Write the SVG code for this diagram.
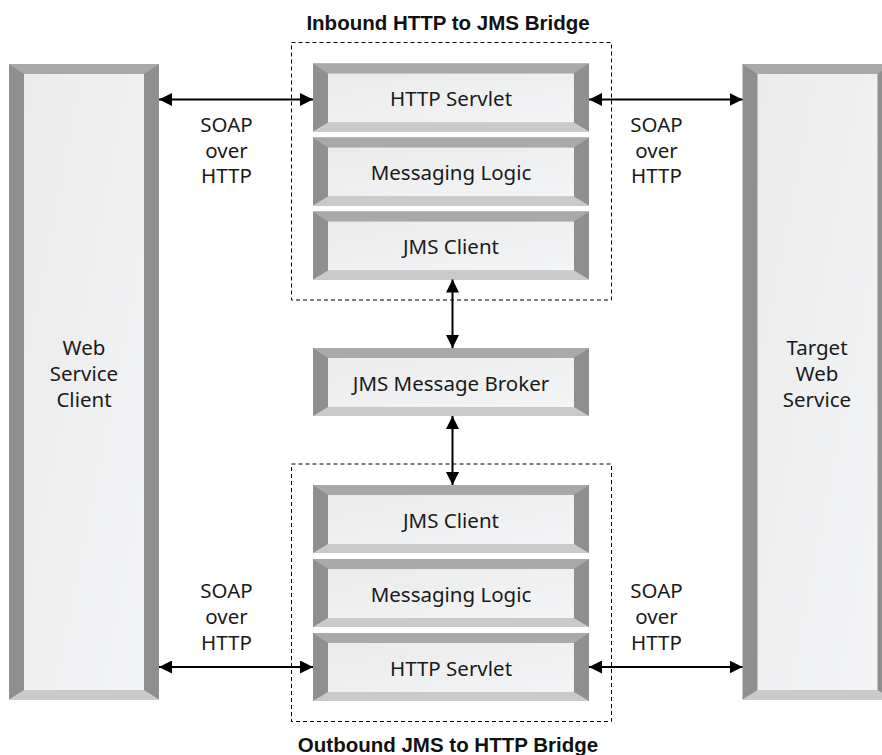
<svg xmlns="http://www.w3.org/2000/svg" width="882" height="755" viewBox="0 0 882 755">
<style>
.side{fill:#8f8f8f}
.top{fill:#a9a9a9}
.bot{fill:#cacaca}
.face{fill:url(#faceGrad)}
.lbl{font-family:"Noto Sans","Liberation Sans",Arial,sans-serif;font-size:20.5px;fill:#1a1a1a;text-anchor:middle}
.ttl{font-family:"Liberation Sans",Arial,sans-serif;font-size:20.5px;font-weight:bold;fill:#111;text-anchor:middle}
.dash{fill:none;stroke:#000;stroke-width:1;stroke-dasharray:4 3}
.conn{stroke:#000;stroke-width:2;fill:none;marker-start:url(#ah);marker-end:url(#ah)}
</style>
<defs>
<linearGradient id="faceGrad" x1="0" y1="0" x2="1" y2="1">
<stop offset="0" stop-color="#ebebeb"/>
<stop offset="1" stop-color="#f3f4f6"/>
</linearGradient>
<marker id="ah" markerUnits="userSpaceOnUse" markerWidth="13" markerHeight="13" refX="12" refY="6" orient="auto-start-reverse" viewBox="0 0 12 12">
<path d="M0,0 L12,6 L0,12 z" fill="#000"/>
</marker>
</defs>
<rect width="882" height="755" fill="#fff"/>

<g id="inbound-bridge">
<rect class="dash" x="291.5" y="42.5" width="320" height="257.5"/>
<text class="ttl" x="448" y="30">Inbound HTTP to JMS Bridge</text>
</g>
<g id="outbound-bridge">
<rect class="dash" x="291.5" y="464" width="320" height="257.5"/>
<text class="ttl" x="448" y="751.5">Outbound JMS to HTTP Bridge</text>
</g>

<g id="web-service-client">
<rect class="side" x="9" y="64" width="150" height="635.5"/>
<polygon class="top" points="9,64 159,64 144,74 24,74"/>
<polygon class="bot" points="9,699.5 159,699.5 144,690 24,690"/>
<rect class="face" x="24" y="74" width="120" height="616"/>
<text class="lbl" x="84" y="354.5">Web</text>
<text class="lbl" x="84" y="380.5">Service</text>
<text class="lbl" x="84" y="406.5">Client</text>
</g>

<g id="target-web-service">
<rect class="side" x="742.5" y="64" width="150" height="635.5"/>
<polygon class="top" points="742.5,64 892.5,64 877.5,74 757.5,74"/>
<polygon class="bot" points="742.5,699.5 892.5,699.5 877.5,690 757.5,690"/>
<rect class="face" x="757.5" y="74" width="120" height="616"/>
<text class="lbl" x="817" y="354.5">Target</text>
<text class="lbl" x="817" y="380.5">Web</text>
<text class="lbl" x="817" y="406.5">Service</text>
</g>

<g id="in-http-servlet">
<rect class="side" x="313" y="63.5" width="276" height="68"/>
<polygon class="top" points="313,63.5 589,63.5 574,73.5 328,73.5"/>
<polygon class="bot" points="313,131.5 589,131.5 574,122.5 328,122.5"/>
<rect class="face" x="328" y="73.5" width="246" height="49"/>
<text class="lbl" x="451" y="106">HTTP Servlet</text>
</g>
<g id="in-messaging-logic">
<rect class="side" x="313" y="137.5" width="276" height="68"/>
<polygon class="top" points="313,137.5 589,137.5 574,147.5 328,147.5"/>
<polygon class="bot" points="313,205.5 589,205.5 574,196.5 328,196.5"/>
<rect class="face" x="328" y="147.5" width="246" height="49"/>
<text class="lbl" x="451" y="180">Messaging Logic</text>
</g>
<g id="in-jms-client">
<rect class="side" x="313" y="211.5" width="276" height="68"/>
<polygon class="top" points="313,211.5 589,211.5 574,221.5 328,221.5"/>
<polygon class="bot" points="313,279.5 589,279.5 574,270.5 328,270.5"/>
<rect class="face" x="328" y="221.5" width="246" height="49"/>
<text class="lbl" x="451" y="254">JMS Client</text>
</g>
<g id="jms-message-broker">
<rect class="side" x="313" y="348" width="276" height="68"/>
<polygon class="top" points="313,348 589,348 574,358 328,358"/>
<polygon class="bot" points="313,416 589,416 574,407 328,407"/>
<rect class="face" x="328" y="358" width="246" height="49"/>
<text class="lbl" x="451" y="390.5">JMS Message Broker</text>
</g>
<g id="out-jms-client">
<rect class="side" x="313" y="485" width="276" height="68"/>
<polygon class="top" points="313,485 589,485 574,495 328,495"/>
<polygon class="bot" points="313,553 589,553 574,544 328,544"/>
<rect class="face" x="328" y="495" width="246" height="49"/>
<text class="lbl" x="451" y="527.5">JMS Client</text>
</g>
<g id="out-messaging-logic">
<rect class="side" x="313" y="559" width="276" height="68"/>
<polygon class="top" points="313,559 589,559 574,569 328,569"/>
<polygon class="bot" points="313,627 589,627 574,618 328,618"/>
<rect class="face" x="328" y="569" width="246" height="49"/>
<text class="lbl" x="451" y="601.5">Messaging Logic</text>
</g>
<g id="out-http-servlet">
<rect class="side" x="313" y="633" width="276" height="68"/>
<polygon class="top" points="313,633 589,633 574,643 328,643"/>
<polygon class="bot" points="313,701 589,701 574,692 328,692"/>
<rect class="face" x="328" y="643" width="246" height="49"/>
<text class="lbl" x="451" y="675.5">HTTP Servlet</text>
</g>

<g id="connectors">
<line class="conn" x1="159" y1="99.5" x2="313" y2="99.5"/>
<line class="conn" x1="589" y1="99.5" x2="742.5" y2="99.5"/>
<line class="conn" x1="452.5" y1="279.5" x2="452.5" y2="348"/>
<line class="conn" x1="452.5" y1="416" x2="452.5" y2="485"/>
<line class="conn" x1="159" y1="667" x2="313" y2="667"/>
<line class="conn" x1="589" y1="667" x2="742.5" y2="667"/>
<g id="labels-soap">
<text class="lbl" x="226.5" y="131.5">SOAP</text>
<text class="lbl" x="226.5" y="157.5">over</text>
<text class="lbl" x="226.5" y="183">HTTP</text>
<text class="lbl" x="656.5" y="131.5">SOAP</text>
<text class="lbl" x="656.5" y="157.5">over</text>
<text class="lbl" x="656.5" y="183">HTTP</text>
<text class="lbl" x="226.5" y="597.5">SOAP</text>
<text class="lbl" x="226.5" y="623.5">over</text>
<text class="lbl" x="226.5" y="649.5">HTTP</text>
<text class="lbl" x="656.5" y="597.5">SOAP</text>
<text class="lbl" x="656.5" y="623.5">over</text>
<text class="lbl" x="656.5" y="649.5">HTTP</text>
</g>
</g>
</svg>
